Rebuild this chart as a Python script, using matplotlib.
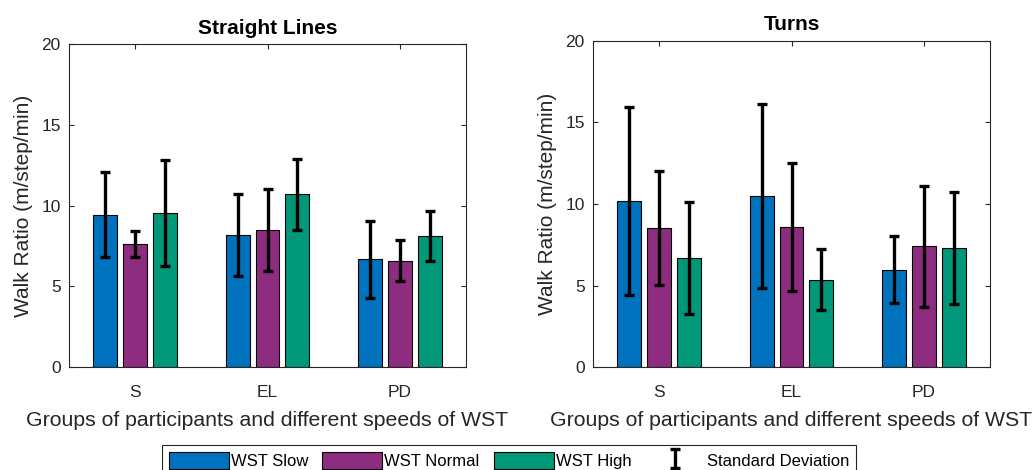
import matplotlib
matplotlib.use('Agg')
import matplotlib.pyplot as plt
from matplotlib.container import ErrorbarContainer
from matplotlib.legend_handler import HandlerErrorbar
import numpy as np

plt.rcParams['font.family'] = ['Liberation Sans', 'DejaVu Sans']

# ---- data ----
groups = ['S', 'EL', 'PD']
series = ['WST Slow', 'WST Normal', 'WST High']
colors = ['#0072BD', '#8E2C7F', '#009879']

straight_slow = [9.45, 8.18, 6.67]
straight_slow_sd = [2.64, 2.52, 2.40]
straight_normal = [7.65, 8.47, 6.60]
straight_normal_sd = [0.81, 2.54, 1.29]
straight_high = [9.55, 10.70, 8.12]
straight_high_sd = [3.26, 2.20, 1.56]

turns_slow = [10.18, 10.48, 5.98]
turns_slow_sd = [5.77, 5.64, 2.03]
turns_normal = [8.55, 8.60, 7.40]
turns_normal_sd = [3.49, 3.92, 3.70]
turns_high = [6.68, 5.37, 7.30]
turns_high_sd = [3.42, 1.86, 3.44]

yticks = [0, 5, 10, 15, 20]
xlabel = 'Groups of participants and different speeds of WST'
ylabel = 'Walk Ratio (m/step/min)'
sd_label = 'Standard Deviation'

# ---- figure ----
W, H = 1033, 470
fig = plt.figure(figsize=(W / 100, H / 100), dpi=100)
ax1 = fig.add_axes([69 / W, 1 - 367.3 / H, 397 / W, (367.3 - 44) / H])
ax2 = fig.add_axes([593 / W, 1 - 367.3 / H, 397 / W, (367.3 - 40.7) / H])

gray = '#262626'
offsets = [-0.225, 0.0, 0.225]
bw = 0.18


def draw(ax, means_list, sds_list, title):
    x = np.arange(1, len(groups) + 1)
    bars, errs = [], []
    for i, (m, s) in enumerate(zip(means_list, sds_list)):
        pos = x + offsets[i]
        b = ax.bar(pos, m, width=bw, color=colors[i], edgecolor='black',
                   linewidth=0.8, label=series[i], zorder=2)
        e = ax.errorbar(pos, m, yerr=s, fmt='none', ecolor='black',
                        elinewidth=2.4, capsize=3.4, capthick=2.4, zorder=3,
                        label=sd_label if i == 0 else '_nolegend_')
        bars.append(b)
        errs.append(e)
    ax.set_xlim(0.5, 3.5)
    ax.set_ylim(0, 20)
    ax.set_xticks(x)
    ax.set_xticklabels(groups)
    ax.set_yticks(yticks)
    ax.tick_params(direction='in', length=3.5, width=0.8, color=gray,
                   top=True, right=True, labelsize=12.5, labelcolor=gray)
    ax.tick_params(axis='x', pad=12.5)
    ax.tick_params(axis='y', pad=6)
    for sp in ax.spines.values():
        sp.set_color(gray)
        sp.set_linewidth(0.8)
    ax.set_xlabel(xlabel, fontsize=15.3, color=gray, labelpad=8)
    ax.set_ylabel(ylabel, fontsize=15, color=gray, labelpad=6)
    ax.set_title(title, fontsize=15, fontweight='bold', color='black', pad=7.5)
    return bars, errs


bars, errs = draw(ax1, [straight_slow, straight_normal, straight_high],
                  [straight_slow_sd, straight_normal_sd, straight_high_sd],
                  'Straight Lines')
draw(ax2, [turns_slow, turns_normal, turns_high],
     [turns_slow_sd, turns_normal_sd, turns_high_sd], 'Turns')

handles = bars + [errs[0]]
labels = series + [sd_label]
leg = fig.legend(handles, labels, loc='upper left',
                 bbox_to_anchor=(162 / W, 1 - 445 / H), ncol=4,
                 fontsize=12, handlelength=3.6, handleheight=1.2,
                 handletextpad=0.12, columnspacing=0.85, borderpad=0.4,
                 borderaxespad=0, fancybox=False, framealpha=1,
                 handler_map={ErrorbarContainer: HandlerErrorbar(xerr_size=0.5, yerr_size=0.58)})
leg.get_frame().set_edgecolor(gray)
leg.get_frame().set_linewidth(0.8)

fig.savefig('out.png', dpi=100)
